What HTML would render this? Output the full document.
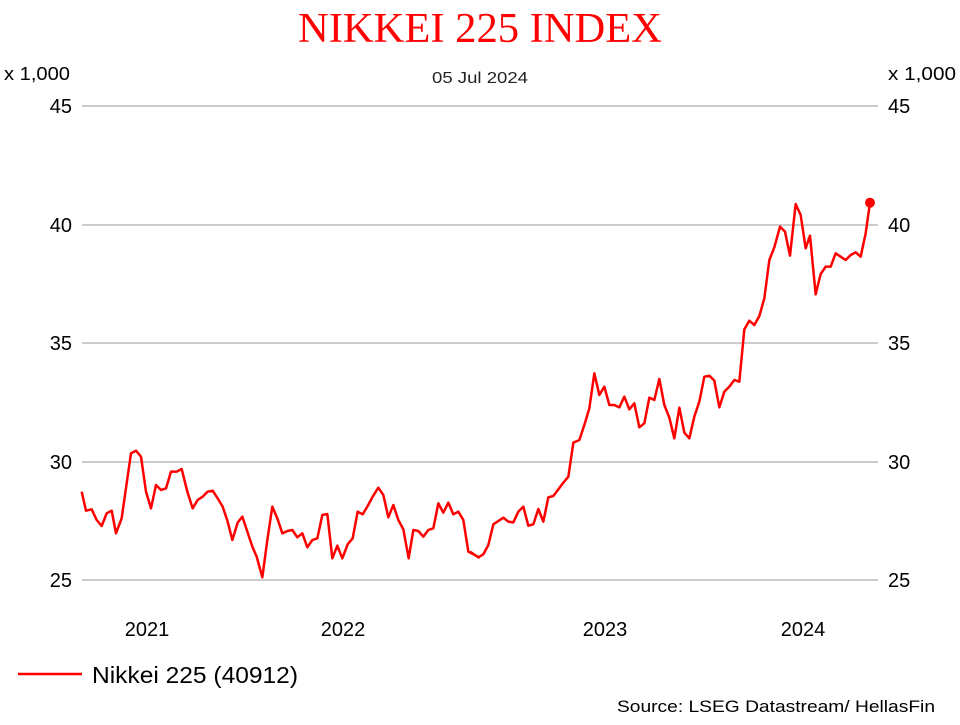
<!DOCTYPE html>
<html><head><meta charset="utf-8"><style>
body{margin:0;background:#fff;}
svg text{font-family:"Liberation Sans",sans-serif;}
</style></head><body>
<svg width="960" height="720" xmlns="http://www.w3.org/2000/svg">
<rect width="960" height="720" fill="#fff"/>
<text x="298" y="42" textLength="364" lengthAdjust="spacingAndGlyphs" style="font-family:'Liberation Serif',serif" font-size="42" fill="#ff0000">NIKKEI 225 INDEX</text>
<text x="432" y="83" textLength="96" lengthAdjust="spacingAndGlyphs" font-size="16" fill="#222">05 Jul 2024</text>
<text x="4" y="80" textLength="66" lengthAdjust="spacingAndGlyphs" font-size="18" fill="#000">x 1,000</text>
<text x="888" y="80" textLength="68" lengthAdjust="spacingAndGlyphs" font-size="18" fill="#000">x 1,000</text>
<g stroke="#999" stroke-width="1">
<line x1="82" y1="106" x2="878" y2="106"/><line x1="82" y1="225" x2="878" y2="225"/>
<line x1="82" y1="343" x2="878" y2="343"/><line x1="82" y1="462" x2="878" y2="462"/>
<line x1="82" y1="580" x2="878" y2="580"/>
</g>
<g font-size="20" fill="#000">
<text x="72" y="113" text-anchor="end">45</text><text x="72" y="232" text-anchor="end">40</text>
<text x="72" y="350" text-anchor="end">35</text><text x="72" y="469" text-anchor="end">30</text>
<text x="72" y="587" text-anchor="end">25</text>
<text x="888" y="113">45</text><text x="888" y="232">40</text>
<text x="888" y="350">35</text><text x="888" y="469">30</text><text x="888" y="587">25</text>
<text x="147" y="636" text-anchor="middle">2021</text><text x="343" y="636" text-anchor="middle">2022</text>
<text x="605" y="636" text-anchor="middle">2023</text><text x="803" y="636" text-anchor="middle">2024</text>
</g>
<g fill="none" stroke="#ff0000" stroke-width="2.5" stroke-linejoin="round">
<polyline transform="translate(80,420) scale(0.33333)" vector-effect="non-scaling-stroke" points="5,215 18,272 35,268 50,300 65,318 80,280 95,272 108,340 125,295 140,190 153,100 168,92 183,110 198,215 213,265 228,195 243,210 258,205 273,155 290,155 305,147 322,215 338,265 353,240 368,230 383,215 398,212 413,235 428,260 443,305 457,360 473,308 487,290 502,335 517,380 530,410 547,472 562,360 577,260 592,295 607,340 622,333 637,330 652,352 667,340 682,382 697,360 712,355 727,285 742,282 757,415 772,377 787,415 803,373 818,355 833,275 848,283 863,258 878,230 895,203 910,225 925,292 940,255 955,300 970,328 986,415 1000,330 1015,333 1030,350 1045,330 1060,325 1075,250 1090,278 1105,248 1120,283 1135,275 1150,300 1165,395 1180,403 1197,412 1200,413"/>
<polyline transform="translate(470,190) scale(0.33333)" vector-effect="non-scaling-stroke" points="0,1085 25,1102 40,1093 55,1065 70,1003 85,993 100,983 115,995 130,997 145,965 160,950 175,1007 190,1003 205,957 220,995 235,922 250,918 265,898 280,878 295,860 310,758 328,750 343,705 358,655 373,550 388,615 403,590 418,645 433,645 448,652 463,620 478,658 493,640 508,712 523,700 538,623 553,630 568,567 583,645 598,683 613,745 628,653 643,728 658,745 673,680 688,635 703,560 718,557 733,572 748,652 763,605 778,590 793,570 808,575 823,418 838,392 853,405 868,378 883,325 898,210 913,172 930,110 945,125 960,197 977,42 992,75 1007,175 1020,137 1037,313 1052,252 1067,230 1082,230 1097,190 1112,200 1127,210 1142,195 1157,187 1172,200 1187,130 1200,38"/>
</g>
<circle cx="870" cy="202.7" r="5" fill="#ff0000"/>
<line x1="18" y1="674" x2="82" y2="674" stroke="#ff0000" stroke-width="2.5"/>
<text x="92" y="683" textLength="206" lengthAdjust="spacingAndGlyphs" font-size="23" fill="#000">Nikkei 225 (40912)</text>
<text x="617" y="712" textLength="318" lengthAdjust="spacingAndGlyphs" font-size="17" fill="#000">Source: LSEG Datastream/ HellasFin</text>
</svg>
</body></html>
